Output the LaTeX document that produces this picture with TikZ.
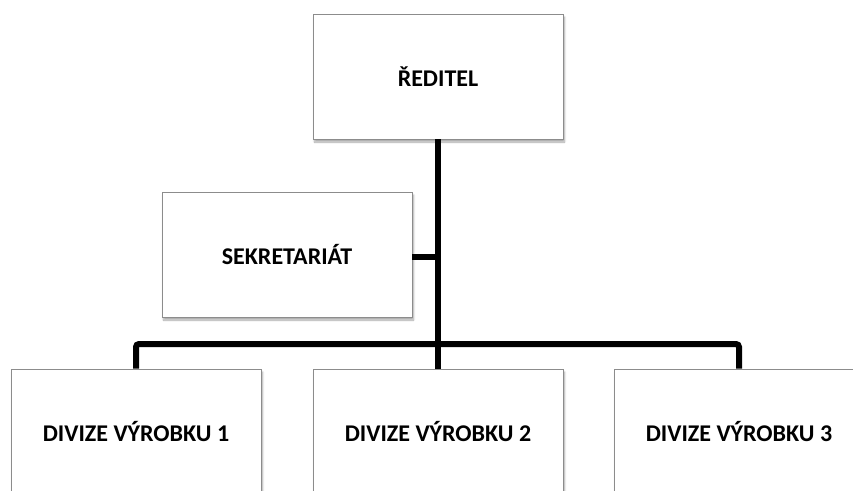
\documentclass[tikz,border=0pt]{standalone}
\usepackage{fontspec}
\setmainfont{Carlito}
\usetikzlibrary{shadows.blur}
\begin{document}
\begin{tikzpicture}[x=1pt,y=-1pt,
  orgbox/.style={draw=black!45, line width=0.9pt, fill=white, minimum width=250pt, minimum height=125pt,
    inner sep=0pt, font=\fontsize{24}{28}\selectfont\bfseries,
    blur shadow={shadow xshift=1.5pt, shadow yshift=-3pt, shadow blur steps=6, shadow opacity=35}},
  link/.style={line width=6pt, rounded corners=3pt}]
\useasboundingbox (0,0) rectangle (853,490);
\clip (0,0) rectangle (853,490);
\node[orgbox] (dir) at (438,76.5) {ŘEDITEL};
\node[orgbox] (sek) at (287,254.5) {SEKRETARIÁT};
\node[orgbox] (d1) at (136,431.5) {DIVIZE VÝROBKU 1};
\node[orgbox] (d2) at (438,431.5) {DIVIZE VÝROBKU 2};
\node[orgbox] (d3) at (739,431.5) {DIVIZE VÝROBKU 3};
\coordinate (bar) at (438,344);
\draw[link] (dir.south) -- (bar);
\draw[link] (sek.east |- 0,257) -- (438,257);
\draw[link] (d1.north -| 136,0) -- (136,344) -- (739,344) -- (d3.north);
\draw[link] (bar) -- (d2.north);
\end{tikzpicture}
\end{document}
